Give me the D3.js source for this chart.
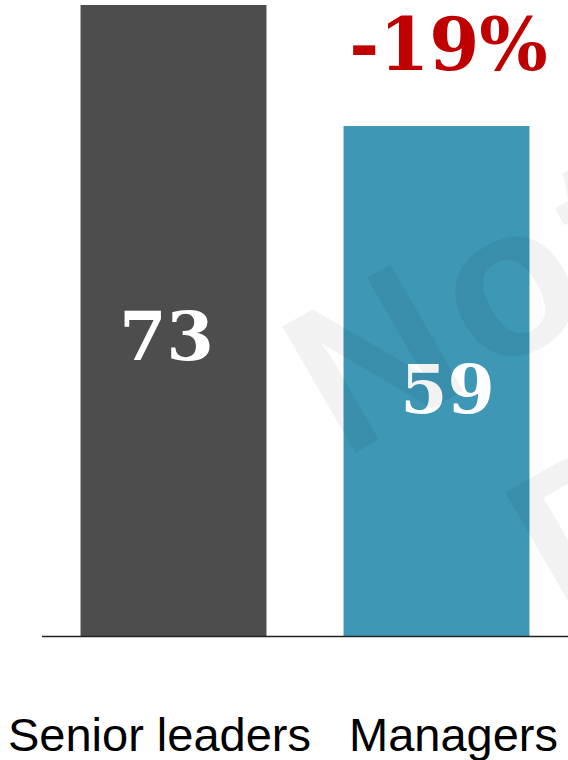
<!DOCTYPE html>
<html lang="en">
<head>
    <meta charset="UTF-8">
    <title>Senior leaders vs Managers</title>
    <script src="https://d3js.org/d3.v7.min.js"></script>
    <style>
        body {
            margin: 0;
            padding: 0;
            background: white;
        }
        .bar-label {
            font-family: 'DejaVu Serif', serif;
            font-weight: bold;
            fill: white;
            text-anchor: middle;
        }
        .cat-label {
            font-family: 'Liberation Sans', Arial, sans-serif;
            font-size: 47px;
            fill: black;
            text-anchor: middle;
        }
        .diff {
            font-family: 'DejaVu Serif', serif;
            font-weight: bold;
            fill: #c00000;
            text-anchor: middle;
        }
        .watermark {
            font-family: 'Liberation Sans', Arial, sans-serif;
            font-weight: bold;
            font-size: 212px;
            letter-spacing: 12px;
            fill: #000;
            fill-opacity: 0.05;
        }
    </style>
</head>
<body>
    <script>
        // data
        var categories = ["Senior leaders", "Managers"];
        var values = [73, 59];
        var colors = ["#4d4d4d", "#3d97b5"];
        var changeLabel = "-19%";

        var width = 568, height = 760;

        var svg = d3.select("body").append("svg")
            .attr("width", width)
            .attr("height", height);

        var x = d3.scaleBand()
            .domain(categories)
            .range([42, 568])
            .paddingInner(0.293)
            .paddingOuter(0.1465);

        var y = d3.scaleLinear()
            .domain([0, d3.max(values)])
            .range([636, 5]);

        var data = categories.map(function(c, i) { return {cat: c, value: values[i], color: colors[i]}; });

        svg.append("g")
            .selectAll("rect")
            .data(data)
            .enter().append("rect")
            .attr("x", function(d) { return x(d.cat); })
            .attr("y", function(d) { return y(d.value); })
            .attr("width", x.bandwidth())
            .attr("height", function(d) { return y(0) - y(d.value); })
            .attr("fill", function(d) { return d.color; });

        // value labels (small nudges to match the original placement)
        var nudge = [[-7, 39], [11, 32]];
        svg.append("g")
            .selectAll("text")
            .data(data)
            .enter().append("text")
            .attr("class", "bar-label")
            .attr("font-size", 68)
            .attr("x", function(d, i) { return x(d.cat) + x.bandwidth() / 2 + nudge[i][0]; })
            .attr("y", function(d, i) { return y(d.value / 2) + nudge[i][1]; })
            .text(function(d) { return d.value; });

        // watermark
        var wm = svg.append("g").attr("class", "watermark");
        wm.append("text")
            .attr("transform", "translate(343,460) rotate(-30)")
            .text("Not for");
        wm.append("text")
            .attr("transform", "translate(566,626) rotate(-30)")
            .text("Distribution");

        // baseline
        svg.append("line")
            .attr("x1", 42)
            .attr("x2", 568)
            .attr("y1", y(0) + 0.5)
            .attr("y2", y(0) + 0.5)
            .attr("stroke", "#222")
            .attr("stroke-width", 1.5);

        // change annotation
        svg.append("text")
            .attr("class", "diff")
            .attr("font-size", 72)
            .attr("x", x("Managers") + x.bandwidth() / 2 + 12)
            .attr("y", 70)
            .text(changeLabel);

        // category labels
        var labelShift = [-14, 17];
        svg.append("g")
            .selectAll("text")
            .data(categories)
            .enter().append("text")
            .attr("class", "cat-label")
            .attr("x", function(d, i) { return x(d) + x.bandwidth() / 2 + labelShift[i]; })
            .attr("y", 751)
            .text(function(d) { return d; });
    </script>
</body>
</html>
